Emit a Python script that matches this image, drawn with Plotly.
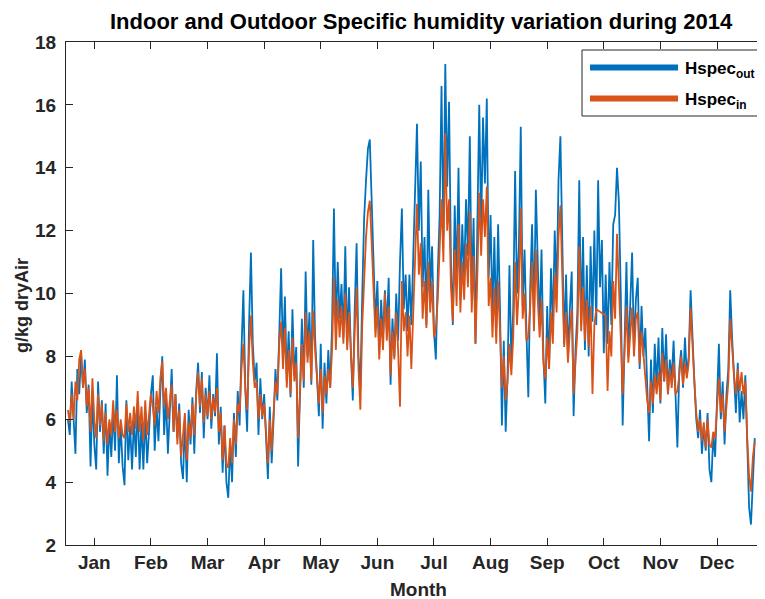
import plotly.graph_objects as go

# ---------------- data ----------------
month_labels = ["Jan", "Feb", "Mar", "Apr", "May", "Jun",
                "Jul", "Aug", "Sep", "Oct", "Nov", "Dec"]
month_tick_days = [15, 45, 75, 105, 135, 165, 195, 225, 255, 285, 315, 345]
y_ticks = [2, 4, 6, 8, 10, 12, 14, 16, 18]

# outdoor specific humidity, g/kg dry air, one reading per day (day 1..365)
hspec_out = [
    6.0, 5.5, 7.2, 6.0, 4.9, 7.6, 6.8, 8.1, 7.0, 7.9,
    6.2, 7.1, 4.5, 6.8, 5.2, 4.4, 7.2, 5.6, 6.6, 4.9,
    6.5, 4.2, 5.9, 4.8, 6.3, 5.0, 7.4, 4.6, 5.8, 4.5,
    3.9, 6.6, 4.7, 5.8, 4.4, 6.0, 4.8, 6.5, 4.4, 5.9,
    4.4, 6.2, 4.6, 5.6, 6.8, 7.4, 5.0, 6.4, 5.3, 6.9,
    8.0, 5.5, 6.7, 4.9, 6.2, 7.6, 5.6, 6.8, 5.4, 6.5,
    4.6, 4.1, 6.0, 4.0, 6.3, 5.2, 6.7, 4.9, 6.9, 7.8,
    6.2, 7.5, 5.4, 7.0, 6.0, 7.4, 5.7, 6.8, 6.1, 8.1,
    5.2, 6.4, 4.3, 5.8, 4.0, 3.5, 5.2, 4.0, 6.2, 4.8,
    6.9, 5.8, 8.2, 10.1, 7.0, 5.6, 9.0, 11.3, 8.4, 7.2,
    7.8, 5.5, 7.3, 6.0, 6.8, 5.2, 4.1, 6.4, 4.6, 6.0,
    7.6, 6.6, 9.2, 10.8, 8.0, 9.9, 7.2, 8.8, 6.7, 9.5,
    7.4, 8.3, 4.5, 6.8, 9.2, 7.0, 10.7, 8.0, 9.4, 7.1,
    11.7, 8.6, 7.5, 6.1, 8.4, 5.7, 7.8, 6.5, 8.2, 7.0,
    9.0, 12.7, 8.8, 11.0, 9.2, 10.3, 8.6, 11.5, 8.4, 10.2,
    8.1, 6.6, 9.5, 11.6, 8.0, 7.0, 10.0, 12.4, 13.6, 14.6,
    14.9, 13.0, 11.2, 9.0, 10.4, 8.2, 9.8, 8.6, 10.1, 8.9,
    10.5, 7.1, 9.2, 8.0, 10.0, 8.5, 11.0, 12.7, 9.5, 10.6,
    8.8, 10.6, 9.0, 11.0, 12.8, 15.4, 12.0, 14.2, 10.2, 11.8,
    9.0, 13.3, 10.0, 11.5, 8.8, 7.9, 10.6, 12.5, 16.6, 11.8,
    17.3, 13.4, 16.1, 11.0, 9.0, 12.8, 10.4, 14.0, 9.8, 12.2,
    10.5, 13.0, 11.2, 15.0, 10.0, 12.4, 8.4, 11.8, 16.0, 12.0,
    15.6, 13.5, 16.2, 10.5, 12.5, 9.2, 11.8, 8.9, 12.2, 9.5,
    5.8, 8.5, 5.6, 7.4, 10.9, 7.8, 9.5, 13.9, 10.0, 11.5,
    15.3, 9.6, 11.4, 8.8, 6.7, 10.2, 12.2, 9.2, 13.3, 11.0,
    9.0, 11.4, 8.0, 6.5, 9.6, 7.6, 10.8, 9.0, 12.0, 10.0,
    13.6, 15.0, 11.5, 8.4, 10.6, 8.0, 9.5, 10.7, 6.1, 8.2,
    9.4, 13.6, 9.0, 11.8, 8.2, 10.9, 8.0, 11.5, 9.1, 12.0,
    9.0, 13.6, 10.2, 11.7, 8.1, 10.6, 8.4, 11.0, 9.0, 12.2,
    12.5, 14.0, 12.9, 10.0, 5.8, 9.0, 11.0, 8.0, 9.6, 11.3,
    8.2, 9.8, 10.5, 7.6, 9.6, 8.0, 8.9, 6.8, 5.3, 7.9,
    6.2, 8.4, 7.0, 8.6, 6.5, 8.9, 7.2, 8.7, 6.8, 7.9,
    7.3, 8.5, 6.4, 5.1, 7.6, 8.2, 7.0, 8.6, 7.4, 8.0,
    10.1, 8.4, 7.2, 6.0, 5.4, 6.3, 4.9, 5.8, 5.0, 6.2,
    4.4, 4.0, 5.5, 4.8, 6.6, 8.4, 6.0, 7.2, 5.2, 6.8,
    7.6, 10.1, 8.6, 7.2, 6.2, 7.8, 5.9, 6.9, 6.0, 7.4,
    4.8, 3.2, 2.65, 4.2, 5.4,
]

# indoor specific humidity (None = missing readings, bridged by a straight line)
hspec_in = [
    6.3, 5.9, 6.8, 6.0, 7.2, 6.6, 7.9, 8.2, 7.0, 7.6,
    6.4, 7.0, 5.6, 7.3, 6.0, 5.4, 6.8, 5.8, 6.5, 5.3,
    6.2, 5.2, 6.0, 5.5, 6.6, 5.6, 6.3, 5.4, 6.0, 5.5,
    5.4, 6.5, 5.6, 6.2, 5.5, 6.4, 5.7, 6.9, 5.6, 6.4,
    5.3, 6.6, 5.5, 6.2, 6.8, 6.4, 5.8, 6.9, 6.2, 7.3,
    7.85, 6.4, 7.0, 6.0, 6.6, 7.1, 5.6, 6.8, 5.2, 6.3,
    4.8, 5.6, 6.2, 4.7, 5.9, 5.4, 6.5, 5.5, 6.8, 7.5,
    6.4, 7.3, 5.9, 6.8, 6.1, 6.9, 6.0, 6.7, 6.2, 7.0,
    5.6, 6.2, 4.7, 5.8, 4.6, 4.45, 5.4, 4.6, 6.0, 5.2,
    6.5, 6.2, 7.6, 8.4, 7.0, 6.3, 8.2, 9.3, 7.8, 7.0,
    7.2, 6.0, 6.8, 6.1, 6.5, 5.6, 4.6, 6.0, 5.0, 6.2,
    7.2, 6.8, 8.4, 9.1, 7.6, 8.9, 7.0, 8.2, 6.8, 8.6,
    7.2, 7.8, 5.4, 6.8, 8.4, 7.2, 9.4, 7.8, 8.8, 7.2,
    9.45, 8.2, 7.4, 6.5, 7.6, 6.2, 7.4, 6.8, 7.6, 7.0,
    8.2, 10.5, 8.2, 9.8, 8.6, 9.6, 8.4, 10.0, 8.2, 9.4,
    8.1, 7.0, 8.8, 10.2, 7.6, 6.3, 9.0, 10.6, 11.8, 12.6,
    12.95, 11.6, 10.2, 8.6, 9.6, 7.9, 9.2, 8.2, 10.0, 8.5,
    9.6, 7.4, 8.8, 7.9, 9.4, 8.2, 6.4, 10.4, 8.8, 9.4,
    8.0, 9.3, 7.6, 9.45, 11.2, 12.85, 10.6, 11.6, 9.2, 10.4,
    8.9, 11.0, 9.4, 10.4, 8.6, 8.9, 9.8, 11.2, 13.0, 11.0,
    15.1, 12.0, 13.0, 10.2, 9.1, 11.4, 9.6, 12.2, 9.4, 11.0,
    9.8, 11.6, 10.2, 12.6, 9.4, 11.2, 8.4, 10.6, 13.2, 11.2,
    13.0, 11.8, 13.4, 9.6, 10.5, 8.6, 10.2, 8.4, 10.4, 8.8,
    7.0, 8.0, 6.6, 7.2, 8.4, 7.4, 8.6, 11.0, 9.0, 10.2,
    12.7, 9.2, 10.0, 8.5, 8.6, 9.6, 11.0, 8.8, 11.4, 9.8,
    8.6, 9.8, 7.8, 7.3, 8.6, 7.6, 9.4, 8.4, 10.6, 9.4,
    11.8, 12.8, 10.2, 8.3, 9.4, 7.8, 8.8, 9.5, 6.8, 7.8,
    8.8, 11.5, 8.8, 10.2, 8.5, 9.8, 8.3, 9.6, 6.8, 9.0,
    9.5, None, None, None, None, 9.3, 6.9, 8.8, 8.0, 10.4,
    9.2, 11.9, 10.5, 8.6, 6.8, 8.4, 9.6, 7.8, 8.8, 9.55,
    8.0, 9.2, 9.4, 7.75, 8.8, 8.0, 7.5, 6.6, 6.2, 7.2,
    6.5, 7.4, 6.8, 7.5, 6.6, 8.1, 7.2, 7.9, 6.8, 7.6,
    7.0, 7.8, 6.8, 6.9, 7.4, 8.0, 7.1, 7.8, 7.3, 7.8,
    9.55, 8.2, 7.2, 6.2, 5.6, 6.0, 5.3, 5.9, 5.1, 6.0,
    5.2, 5.1, 5.6, 5.4, 6.2, 7.3, 6.2, 6.8, 5.6, 6.5,
    7.2, 9.2, 8.2, 7.4, 6.8, 7.6, 6.9, 7.5, 6.8, 7.2,
    5.4, 4.2, 3.7, 4.8, 5.3,
]

day_of_year = list(range(1, len(hspec_out) + 1))

# ---------------- styling ----------------
W, H = 765, 599
OFF = 8                                  # page offset of the figure in the browser
# plot-area box in on-screen pixels, converted to figure pixels
SL, SR, ST, SB = 66, 765, 42, 545
L, R, T, B = SL - OFF, SR - OFF, ST - OFF, SB - OFF
BLUE = "#0072BD"
ORANGE = "#D95319"
AX = "#262626"
FONT = "Liberation Sans"


def sx(p):
    """on-screen x pixel -> paper coordinate"""
    return (p - OFF - L) / (R - L)


def sy(p):
    """on-screen y pixel -> paper coordinate"""
    return (B - (p - OFF)) / (B - T)


fig = go.Figure()
fig.add_trace(go.Scatter(x=day_of_year, y=hspec_out, mode="lines",
                         name="Hspec out", showlegend=False,
                         line=dict(color=BLUE, width=1.8)))
fig.add_trace(go.Scatter(x=day_of_year, y=hspec_in, mode="lines",
                         name="Hspec in", showlegend=False, connectgaps=True,
                         line=dict(color=ORANGE, width=1.8)))

tickfont = dict(family=FONT, size=19, color=AX, weight="bold")

fig.update_layout(
    width=W, height=H,
    margin=dict(l=L, r=W - R, t=T, b=H - B, autoexpand=False),
    paper_bgcolor="white", plot_bgcolor="white",
    showlegend=False,
    xaxis=dict(range=[0, (SR - SL) / 1.887], tickmode="array",
               tickvals=month_tick_days, ticktext=month_labels,
               ticks="inside", ticklen=7, tickcolor=AX, tickwidth=1,
               showline=True, linecolor=AX, linewidth=1, mirror="ticks",
               showgrid=False, zeroline=False, tickfont=tickfont,
               ticklabelstandoff=0),
    yaxis=dict(range=[2, 18], tickmode="array", tickvals=y_ticks,
               ticktext=[str(v) for v in y_ticks],
               ticks="inside", ticklen=7, tickcolor=AX, tickwidth=1,
               showline=True, linecolor=AX, linewidth=1, mirror="ticks",
               showgrid=False, zeroline=False, tickfont=tickfont,
               ticklabelstandoff=5),
)

annotations = [
    dict(text="Indoor and Outdoor Specific humidity variation during 2014",
         x=sx(421), y=sy(22), xref="paper", yref="paper",
         xanchor="center", yanchor="middle", showarrow=False,
         font=dict(family=FONT, size=22, color="black", weight="bold")),
    dict(text="Month", x=sx(419), y=sy(589), xref="paper", yref="paper",
         xanchor="center", yanchor="middle", showarrow=False,
         font=dict(family=FONT, size=19, color=AX, weight="bold")),
    dict(text="g/kg dryAir", x=sx(22), y=sy(306), xref="paper", yref="paper",
         xanchor="center", yanchor="middle", showarrow=False, textangle=-90,
         font=dict(family=FONT, size=18, color=AX, weight="bold")),
    dict(text="Hspec<sub>out</sub>", x=sx(683), y=sy(70), xref="paper", yref="paper",
         xanchor="left", yanchor="middle", showarrow=False,
         font=dict(family=FONT, size=17, color="black", weight="bold")),
    dict(text="Hspec<sub>in</sub>", x=sx(683), y=sy(101), xref="paper", yref="paper",
         xanchor="left", yanchor="middle", showarrow=False,
         font=dict(family=FONT, size=17, color="black", weight="bold")),
]
fig.update_layout(annotations=annotations)

shapes = [
    dict(type="rect", xref="paper", yref="paper",
         x0=sx(582), x1=sx(764), y0=sy(116), y1=sy(50),
         line=dict(color=AX, width=1), fillcolor="white", layer="above"),
    dict(type="line", xref="paper", yref="paper",
         x0=sx(590), x1=sx(678), y0=sy(67.5), y1=sy(67.5),
         line=dict(color=BLUE, width=6), layer="above"),
    dict(type="line", xref="paper", yref="paper",
         x0=sx(590), x1=sx(678), y0=sy(98.5), y1=sy(98.5),
         line=dict(color=ORANGE, width=6), layer="above"),
]
fig.update_layout(shapes=shapes)

fig.write_html("out.html")
